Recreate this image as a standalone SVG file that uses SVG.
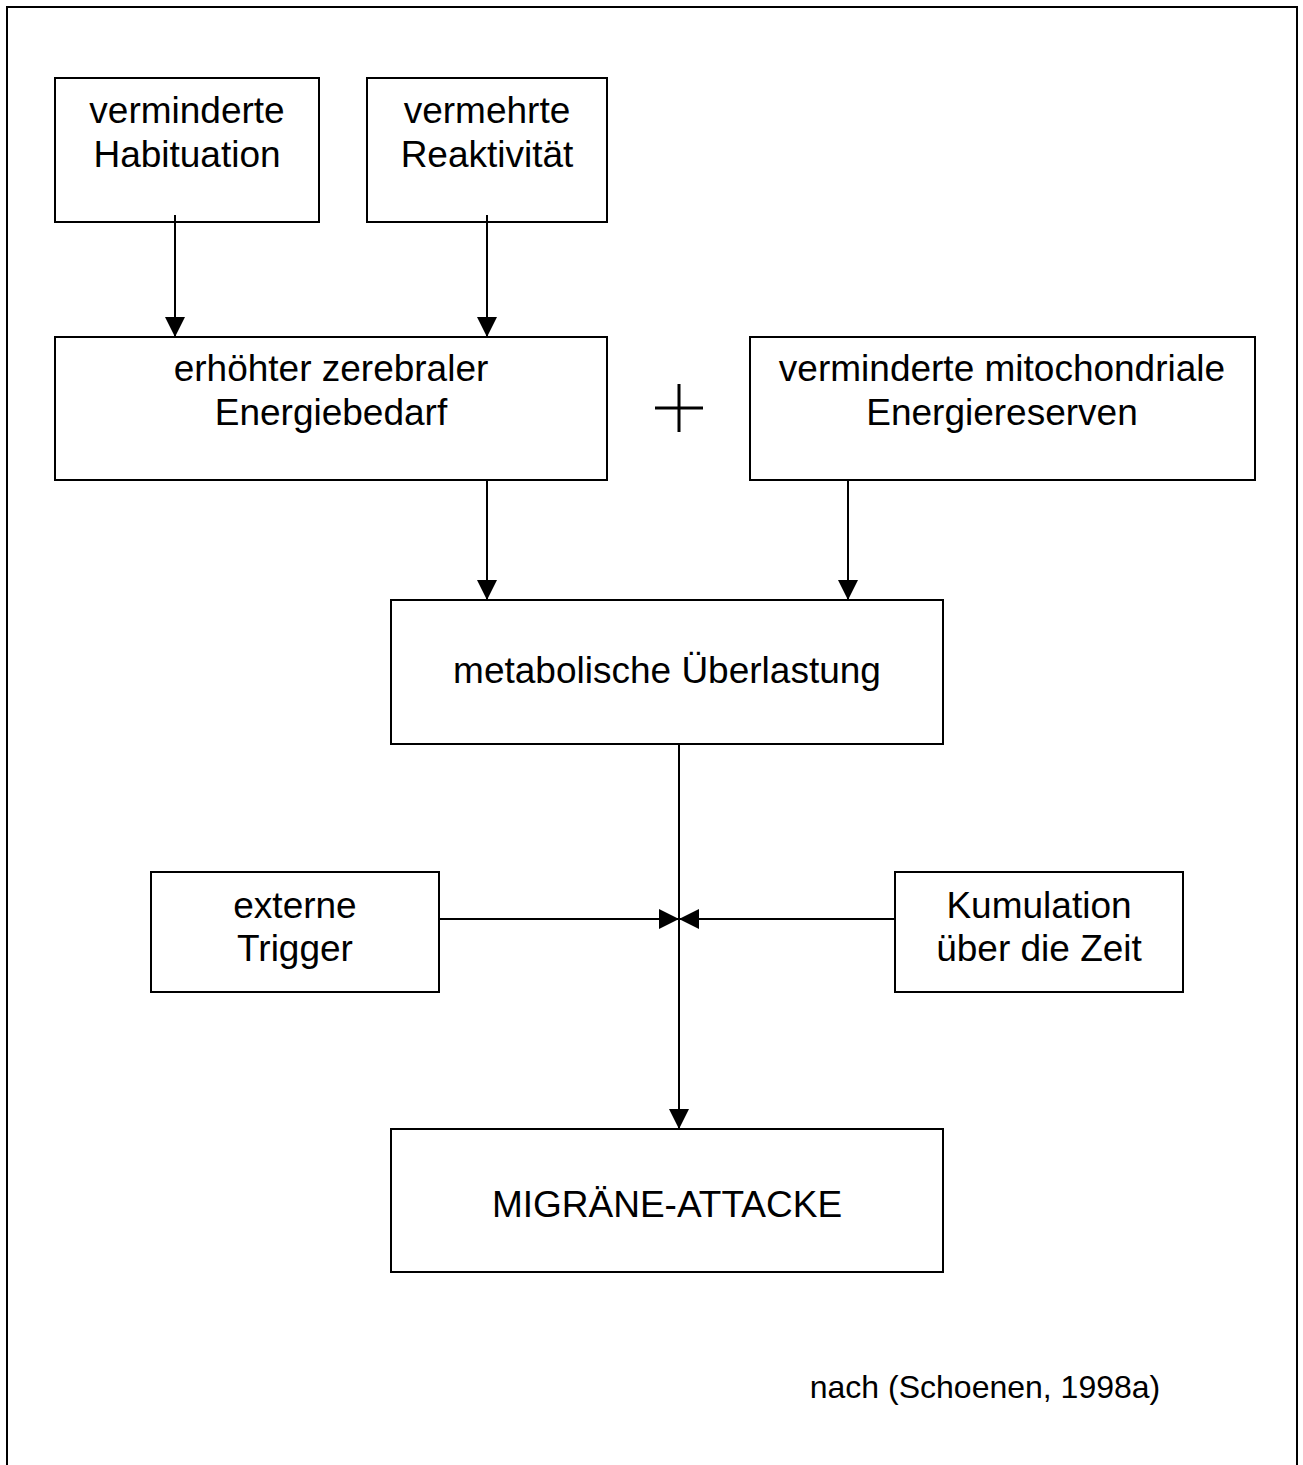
<svg xmlns="http://www.w3.org/2000/svg" width="1303" height="1465" viewBox="0 0 1303 1465">
<style>
.box{fill:#fff;stroke:#000;stroke-width:2}
.t{font-family:"Liberation Sans",Arial,sans-serif;font-size:37px;fill:#000;text-anchor:middle}
.c{stroke:#000;stroke-width:2;fill:none}
</style>
<defs>
<marker id="ah" markerWidth="20" markerHeight="20" viewBox="0 0 20 20" refX="20" refY="10" orient="auto" markerUnits="userSpaceOnUse">
<path d="M0,0 L20,10 L0,20 Z" fill="#000"/>
</marker>
</defs>
<rect width="1303" height="1465" fill="#fff"/>
<path d="M7,1465 V7 H1297 V1465" class="c"/>
<g id="n1"><rect class="box" x="55" y="78" width="264" height="144"/><text class="t" x="187" y="123">verminderte</text><text class="t" x="187" y="167">Habituation</text></g>
<g id="n2"><rect class="box" x="367" y="78" width="240" height="144"/><text class="t" x="487" y="123">vermehrte</text><text class="t" x="487" y="167">Reaktivität</text></g>
<g id="n3"><rect class="box" x="55" y="337" width="552" height="143"/><text class="t" x="331" y="381">erhöhter zerebraler</text><text class="t" x="331" y="425">Energiebedarf</text></g>
<g id="n4"><rect class="box" x="750" y="337" width="505" height="143"/><text class="t" x="1002" y="381">verminderte mitochondriale</text><text class="t" x="1002" y="425">Energiereserven</text></g>
<g id="plus"><path d="M655,408 H703 M679,384 V432" stroke="#000" stroke-width="3"/></g>
<g id="n5"><rect class="box" x="391" y="600" width="552" height="144"/><text class="t" x="667" y="683">metabolische Überlastung</text></g>
<g id="n6"><rect class="box" x="151" y="872" width="288" height="120"/><text class="t" x="295" y="918">externe</text><text class="t" x="295" y="961">Trigger</text></g>
<g id="n7"><rect class="box" x="895" y="872" width="288" height="120"/><text class="t" x="1039" y="918">Kumulation</text><text class="t" x="1039" y="961">über die Zeit</text></g>
<g id="n8"><rect class="box" x="391" y="1129" width="552" height="143"/><text class="t" x="667" y="1217">MIGRÄNE-ATTACKE</text></g>
<text x="985" y="1398" style="font-family:'Liberation Sans',Arial,sans-serif;font-size:32px;text-anchor:middle">nach (Schoenen, 1998a)</text>
<g id="connectors">
<line class="c" x1="175" y1="215" x2="175" y2="337" marker-end="url(#ah)"/>
<line class="c" x1="487" y1="215" x2="487" y2="337" marker-end="url(#ah)"/>
<line class="c" x1="487" y1="480" x2="487" y2="600" marker-end="url(#ah)"/>
<line class="c" x1="848" y1="480" x2="848" y2="600" marker-end="url(#ah)"/>
<line class="c" x1="679" y1="744" x2="679" y2="1129" marker-end="url(#ah)"/>
<line class="c" x1="439" y1="919" x2="679" y2="919" marker-end="url(#ah)"/>
<line class="c" x1="895" y1="919" x2="679" y2="919" marker-end="url(#ah)"/>
</g>
</svg>
